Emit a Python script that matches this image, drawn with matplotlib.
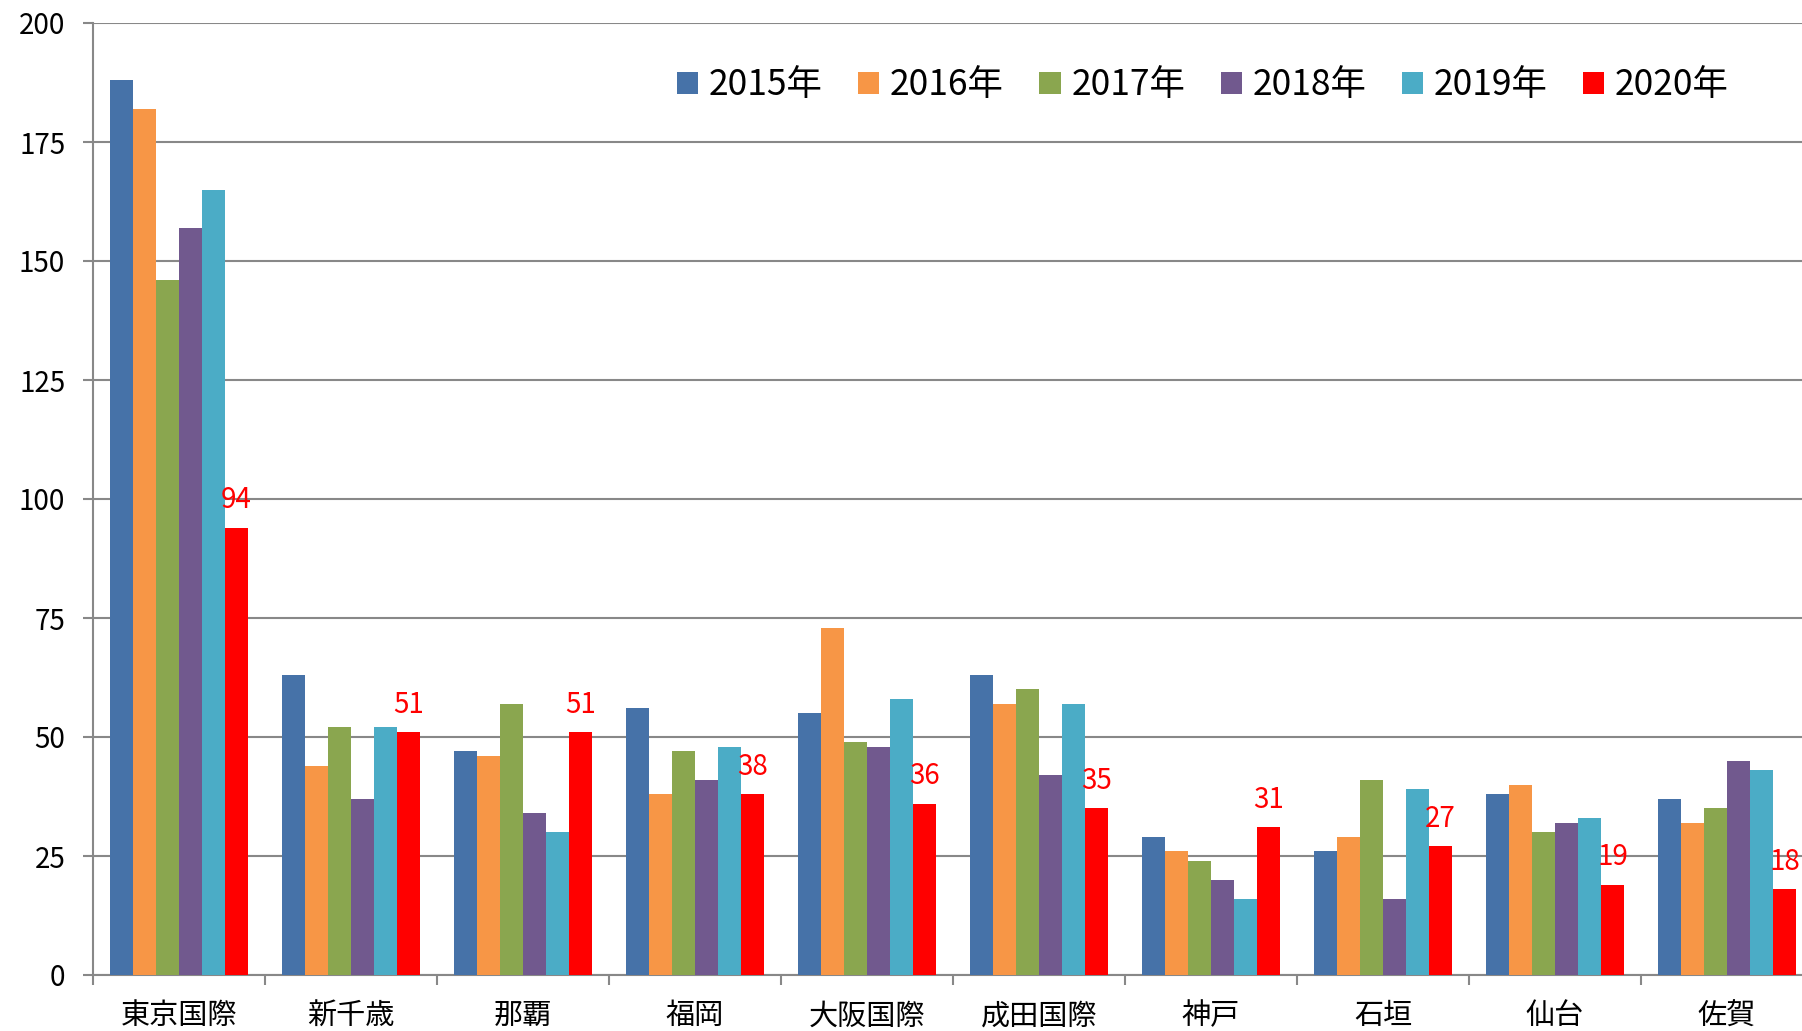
import numpy as np
import matplotlib
matplotlib.use("Agg")
import matplotlib.pyplot as plt
from matplotlib.ticker import FixedLocator

plt.rcParams['font.family'] = ['Noto Sans CJK JP', 'DejaVu Sans']

# 空港ごとの値（年別）
airports = ["東京国際", "新千歳", "那覇", "福岡", "大阪国際", "成田国際", "神戸", "石垣", "仙台", "佐賀"]
years = ["2015年", "2016年", "2017年", "2018年", "2019年", "2020年"]
y2015 = [188, 63, 47, 56, 55, 63, 29, 26, 38, 37]
y2016 = [182, 44, 46, 38, 73, 57, 26, 29, 40, 32]
y2017 = [146, 52, 57, 47, 49, 60, 24, 41, 30, 35]
y2018 = [157, 37, 34, 41, 48, 42, 20, 16, 32, 45]
y2019 = [165, 52, 30, 48, 58, 57, 16, 39, 33, 43]
y2020 = [94, 51, 51, 38, 36, 35, 31, 27, 19, 18]
yticks = [0, 25, 50, 75, 100, 125, 150, 175, 200]

series = [y2015, y2016, y2017, y2018, y2019, y2020]
colors = ["#4672A8", "#F79646", "#8AA64F", "#71598E", "#4BACC6", "#FF0000"]

fig = plt.figure(figsize=(18.02, 10.31), dpi=100)
ax = fig.add_axes([93 / 1802, 1 - 975 / 1031, 1720 / 1802, (975 - 23) / 1031])

x = np.arange(len(airports))
w = 0.134
for i, (vals, c) in enumerate(zip(series, colors)):
    pos = x + (i - 2.5) * w
    ax.bar(pos, vals, width=w, color=c, label=years[i], zorder=3)

# 2020年だけ数値ラベル
for xi, v in zip(x + 2.5 * w, y2020):
    ax.annotate(str(v), (xi, v), xytext=(0, 14), textcoords="offset points",
                ha="center", va="baseline", color="red", fontsize=20, zorder=4)

ax.set_xlim(-0.5, len(airports) - 0.5)
ax.set_ylim(0, 200)
ax.set_yticks(yticks)
ax.yaxis.grid(True, color="#888888", linewidth=1.5, zorder=0)
ax.set_axisbelow(True)

ax.set_xticks(x)
ax.set_xticklabels(airports, fontsize=21)
ax.xaxis.set_minor_locator(FixedLocator(np.arange(-0.5, len(airports), 1.0)))
ax.tick_params(axis="x", which="major", length=0, pad=19)
ax.tick_params(axis="x", which="minor", length=7, width=1.5, color="#888888", direction="out")
ax.tick_params(axis="y", length=7, width=1.5, color="#888888", pad=13, labelsize=20)

for s in ["top", "right"]:
    ax.spines[s].set_visible(False)
for s in ["left", "bottom"]:
    ax.spines[s].set_color("#888888")
    ax.spines[s].set_linewidth(1.5)

leg = fig.legend(loc="center left", bbox_to_anchor=(677 / 1802, 1 - 85.5 / 1031), ncol=6,
                 frameon=False, fontsize=25.5, handlelength=0.6, handleheight=0.6,
                 handletextpad=0.3, columnspacing=1.0, borderpad=0, borderaxespad=0)

fig.savefig("out.png", dpi=100)
